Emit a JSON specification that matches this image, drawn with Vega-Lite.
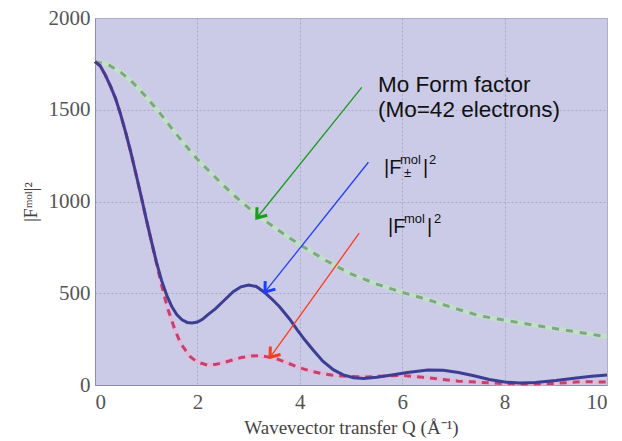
{
  "$schema": "https://vega.github.io/schema/vega-lite/v6.json",
  "autosize": {"type": "none"},
  "width": 512,
  "height": 367,
  "padding": {"left": 95, "top": 18, "right": 15, "bottom": 56},
  "background": "white",
  "config": {
    "view": {"fill": "#cbcbe8", "stroke": "#b4b4d0", "strokeWidth": 1},
    "axis": {
      "labelFont": "Liberation Serif",
      "labelFontSize": 21,
      "labelColor": "#555555",
      "titleFont": "Liberation Serif",
      "titleFontSize": 19,
      "titleFontWeight": "normal",
      "titleColor": "#444444",
      "gridColor": "#a9a9c6",
      "gridDash": [2, 2],
      "gridWidth": 1,
      "domainColor": "#8c8cac",
      "ticks": false
    }
  },
  "datasets": {
    "curves": [
      {"Q": 0, "v": 1762, "series": "Fpm"}, {"Q": 0.1, "v": 1740, "series": "Fpm"}, {"Q": 0.2, "v": 1690, "series": "Fpm"}, {"Q": 0.3, "v": 1630, "series": "Fpm"}, {"Q": 0.4, "v": 1562, "series": "Fpm"}, {"Q": 0.5, "v": 1475, "series": "Fpm"}, {"Q": 0.6, "v": 1375, "series": "Fpm"}, {"Q": 0.7, "v": 1268, "series": "Fpm"}, {"Q": 0.8, "v": 1150, "series": "Fpm"}, {"Q": 0.9, "v": 1030, "series": "Fpm"}, {"Q": 1.0, "v": 905, "series": "Fpm"}, {"Q": 1.1, "v": 785, "series": "Fpm"}, {"Q": 1.2, "v": 670, "series": "Fpm"}, {"Q": 1.3, "v": 570, "series": "Fpm"}, {"Q": 1.4, "v": 490, "series": "Fpm"}, {"Q": 1.5, "v": 427, "series": "Fpm"}, {"Q": 1.6, "v": 383, "series": "Fpm"}, {"Q": 1.7, "v": 355, "series": "Fpm"}, {"Q": 1.8, "v": 341, "series": "Fpm"}, {"Q": 1.9, "v": 338, "series": "Fpm"}, {"Q": 2.0, "v": 343, "series": "Fpm"}, {"Q": 2.1, "v": 358, "series": "Fpm"}, {"Q": 2.2, "v": 382, "series": "Fpm"}, {"Q": 2.35, "v": 415, "series": "Fpm"}, {"Q": 2.5, "v": 455, "series": "Fpm"}, {"Q": 2.7, "v": 508, "series": "Fpm"}, {"Q": 2.85, "v": 535, "series": "Fpm"}, {"Q": 3.0, "v": 545, "series": "Fpm"}, {"Q": 3.15, "v": 537, "series": "Fpm"}, {"Q": 3.3, "v": 507, "series": "Fpm"}, {"Q": 3.45, "v": 470, "series": "Fpm"}, {"Q": 3.6, "v": 428, "series": "Fpm"}, {"Q": 3.8, "v": 360, "series": "Fpm"}, {"Q": 3.95, "v": 300, "series": "Fpm"}, {"Q": 4.1, "v": 245, "series": "Fpm"}, {"Q": 4.26, "v": 191, "series": "Fpm"}, {"Q": 4.45, "v": 130, "series": "Fpm"}, {"Q": 4.66, "v": 82, "series": "Fpm"}, {"Q": 4.85, "v": 55, "series": "Fpm"}, {"Q": 5.05, "v": 40, "series": "Fpm"}, {"Q": 5.25, "v": 36, "series": "Fpm"}, {"Q": 5.5, "v": 42, "series": "Fpm"}, {"Q": 5.8, "v": 55, "series": "Fpm"}, {"Q": 6.1, "v": 68, "series": "Fpm"}, {"Q": 6.5, "v": 82, "series": "Fpm"}, {"Q": 6.8, "v": 80, "series": "Fpm"}, {"Q": 7.1, "v": 68, "series": "Fpm"}, {"Q": 7.4, "v": 50, "series": "Fpm"}, {"Q": 7.7, "v": 30, "series": "Fpm"}, {"Q": 8.0, "v": 16, "series": "Fpm"}, {"Q": 8.3, "v": 11, "series": "Fpm"}, {"Q": 8.6, "v": 13, "series": "Fpm"}, {"Q": 9.0, "v": 24, "series": "Fpm"}, {"Q": 9.4, "v": 38, "series": "Fpm"}, {"Q": 9.7, "v": 48, "series": "Fpm"}, {"Q": 10, "v": 55, "series": "Fpm"},

      {"Q": 0, "v": 1762, "series": "F"}, {"Q": 0.1, "v": 1740, "series": "F"}, {"Q": 0.2, "v": 1690, "series": "F"}, {"Q": 0.3, "v": 1630, "series": "F"}, {"Q": 0.4, "v": 1562, "series": "F"}, {"Q": 0.5, "v": 1475, "series": "F"}, {"Q": 0.6, "v": 1375, "series": "F"}, {"Q": 0.7, "v": 1268, "series": "F"}, {"Q": 0.8, "v": 1150, "series": "F"}, {"Q": 0.9, "v": 1030, "series": "F"}, {"Q": 1.0, "v": 905, "series": "F"}, {"Q": 1.1, "v": 785, "series": "F"}, {"Q": 1.2, "v": 665, "series": "F"}, {"Q": 1.3, "v": 545, "series": "F"}, {"Q": 1.41, "v": 425, "series": "F"}, {"Q": 1.54, "v": 318, "series": "F"}, {"Q": 1.67, "v": 227, "series": "F"}, {"Q": 1.86, "v": 154, "series": "F"}, {"Q": 2.0, "v": 125, "series": "F"}, {"Q": 2.19, "v": 109, "series": "F"}, {"Q": 2.35, "v": 112, "series": "F"}, {"Q": 2.51, "v": 122, "series": "F"}, {"Q": 2.7, "v": 137, "series": "F"}, {"Q": 2.86, "v": 150, "series": "F"}, {"Q": 3.05, "v": 158, "series": "F"}, {"Q": 3.22, "v": 160, "series": "F"}, {"Q": 3.4, "v": 152, "series": "F"}, {"Q": 3.58, "v": 140, "series": "F"}, {"Q": 3.76, "v": 120, "series": "F"}, {"Q": 3.94, "v": 100, "series": "F"}, {"Q": 4.1, "v": 85, "series": "F"}, {"Q": 4.26, "v": 73, "series": "F"}, {"Q": 4.44, "v": 62, "series": "F"}, {"Q": 4.62, "v": 54, "series": "F"}, {"Q": 4.9, "v": 47, "series": "F"}, {"Q": 5.3, "v": 44, "series": "F"}, {"Q": 5.6, "v": 48, "series": "F"}, {"Q": 6.0, "v": 52, "series": "F"}, {"Q": 6.4, "v": 42, "series": "F"}, {"Q": 6.8, "v": 30, "series": "F"}, {"Q": 7.1, "v": 21, "series": "F"}, {"Q": 7.5, "v": 15, "series": "F"}, {"Q": 8.0, "v": 8, "series": "F"}, {"Q": 8.5, "v": 5, "series": "F"}, {"Q": 9.0, "v": 9, "series": "F"}, {"Q": 9.5, "v": 18, "series": "F"}, {"Q": 10, "v": 16, "series": "F"},

      {"Q": 0, "v": 1762, "series": "Mo"}, {"Q": 0.25, "v": 1747, "series": "Mo"}, {"Q": 0.5, "v": 1705, "series": "Mo"}, {"Q": 0.75, "v": 1645, "series": "Mo"}, {"Q": 1.0, "v": 1570, "series": "Mo"}, {"Q": 1.25, "v": 1488, "series": "Mo"}, {"Q": 1.5, "v": 1398, "series": "Mo"}, {"Q": 1.75, "v": 1312, "series": "Mo"}, {"Q": 2.0, "v": 1230, "series": "Mo"}, {"Q": 2.25, "v": 1160, "series": "Mo"}, {"Q": 2.5, "v": 1090, "series": "Mo"}, {"Q": 2.75, "v": 1025, "series": "Mo"}, {"Q": 3.0, "v": 965, "series": "Mo"}, {"Q": 3.25, "v": 910, "series": "Mo"}, {"Q": 3.5, "v": 860, "series": "Mo"}, {"Q": 3.75, "v": 810, "series": "Mo"}, {"Q": 4.0, "v": 765, "series": "Mo"}, {"Q": 4.5, "v": 680, "series": "Mo"}, {"Q": 5.0, "v": 605, "series": "Mo"}, {"Q": 5.5, "v": 550, "series": "Mo"}, {"Q": 6.0, "v": 505, "series": "Mo"}, {"Q": 6.5, "v": 465, "series": "Mo"}, {"Q": 7.0, "v": 420, "series": "Mo"}, {"Q": 7.5, "v": 378, "series": "Mo"}, {"Q": 8.0, "v": 353, "series": "Mo"}, {"Q": 8.5, "v": 330, "series": "Mo"}, {"Q": 9.0, "v": 307, "series": "Mo"}, {"Q": 9.5, "v": 285, "series": "Mo"}, {"Q": 10, "v": 263, "series": "Mo"}
    ],
    "arrows": [
      {"series": "Mo", "Q1": 5.21, "v1": 1622, "Q2": 3.16, "v2": 910},
      {"series": "Fpm", "Q1": 5.34, "v1": 1214, "Q2": 3.32, "v2": 507},
      {"series": "F", "Q1": 5.16, "v1": 827, "Q2": 3.42, "v2": 151}
    ],
    "labels": [
      {"Q": 5.527, "v": 1597, "text": "Mo Form factor", "role": "big"},
      {"Q": 5.527, "v": 1460, "text": "(Mo=42 electrons)", "role": "big"},
      {"Q": 5.645, "v": 1150, "text": "|F", "role": "main"},
      {"Q": 5.957, "v": 1204, "text": "mol", "role": "sup"},
      {"Q": 6.035, "v": 1134, "text": "±", "role": "sup"},
      {"Q": 6.406, "v": 1150, "text": "|", "role": "main"},
      {"Q": 6.523, "v": 1204, "text": "2", "role": "sup"},
      {"Q": 5.723, "v": 828, "text": "|F", "role": "main"},
      {"Q": 6.035, "v": 883, "text": "mol", "role": "sup"},
      {"Q": 6.484, "v": 828, "text": "|", "role": "main"},
      {"Q": 6.621, "v": 883, "text": "2", "role": "sup"}
    ]
  },
  "encoding": {
    "x": {"field": "Q", "type": "quantitative", "scale": {"domain": [0, 10], "nice": false},
      "axis": {"values": [0, 2, 4, 6, 8, 10], "title": "Wavevector transfer Q (Å⁻¹)", "labelPadding": 6, "titlePadding": 6}},
    "y": {"field": "v", "type": "quantitative", "scale": {"domain": [0, 2000], "nice": false},
      "axis": {"values": [0, 500, 1000, 1500, 2000], "format": "d", "title": "|Fᵐᵒˡ|²", "titleFontSize": 18, "labelPadding": 5, "titlePadding": 8}}
  },
  "layer": [
    {
      "data": {"name": "curves"},
      "transform": [{"filter": "datum.series === 'Mo'"}],
      "mark": {"type": "line", "color": "#bfe6bf", "strokeWidth": 5, "opacity": 0.7}
    },
    {
      "data": {"name": "curves"},
      "transform": [{"filter": "datum.series === 'Mo'"}],
      "mark": {"type": "line", "color": "#7fa882", "strokeWidth": 3, "strokeDash": [7, 7]}
    },
    {
      "data": {"name": "curves"},
      "transform": [{"filter": "datum.series === 'F'"}],
      "mark": {"type": "line", "color": "#eab4d2", "strokeWidth": 4.5, "opacity": 0.6}
    },
    {
      "data": {"name": "curves"},
      "transform": [{"filter": "datum.series === 'F'"}],
      "mark": {"type": "line", "color": "#c8416e", "strokeWidth": 3, "strokeDash": [7, 6]}
    },
    {
      "data": {"name": "curves"},
      "transform": [{"filter": "datum.series === 'Fpm'"}],
      "mark": {"type": "line", "color": "#3c3e94", "strokeWidth": 3}
    },
    {
      "data": {"name": "arrows"},
      "mark": {"type": "rule", "strokeWidth": 1.3},
      "encoding": {
        "x": {"field": "Q1", "type": "quantitative"},
        "y": {"field": "v1", "type": "quantitative"},
        "x2": {"field": "Q2"},
        "y2": {"field": "v2"},
        "color": {"field": "series", "type": "nominal", "scale": {"domain": ["Mo", "Fpm", "F"], "range": ["#1c9a1c", "#1f3dff", "#ff3a18"]}, "legend": null}
      }
    },
    {
      "data": {"name": "arrows"},
      "mark": {"type": "point", "shape": "M -1 -0.75 L 0 0 L -1 0.75", "filled": false, "strokeWidth": 3, "size": 300, "angle": 128, "opacity": 1},
      "encoding": {
        "x": {"field": "Q2", "type": "quantitative"},
        "y": {"field": "v2", "type": "quantitative"},
        "color": {"field": "series", "type": "nominal", "scale": {"domain": ["Mo", "Fpm", "F"], "range": ["#1c9a1c", "#1f3dff", "#ff3a18"]}, "legend": null}
      }
    },
    {
      "data": {"name": "labels"},
      "transform": [{"filter": "datum.role === 'big'"}],
      "mark": {"type": "text", "align": "left", "baseline": "alphabetic", "font": "Liberation Sans", "fontSize": 22.5, "color": "#111111"},
      "encoding": {"text": {"field": "text"}}
    },
    {
      "data": {"name": "labels"},
      "transform": [{"filter": "datum.role === 'main'"}],
      "mark": {"type": "text", "align": "left", "baseline": "alphabetic", "font": "Liberation Sans", "fontSize": 20, "color": "#111111"},
      "encoding": {"text": {"field": "text"}}
    },
    {
      "data": {"name": "labels"},
      "transform": [{"filter": "datum.role === 'sup'"}],
      "mark": {"type": "text", "align": "left", "baseline": "alphabetic", "font": "Liberation Sans", "fontSize": 13, "color": "#111111"},
      "encoding": {"text": {"field": "text"}}
    }
  ]
}
